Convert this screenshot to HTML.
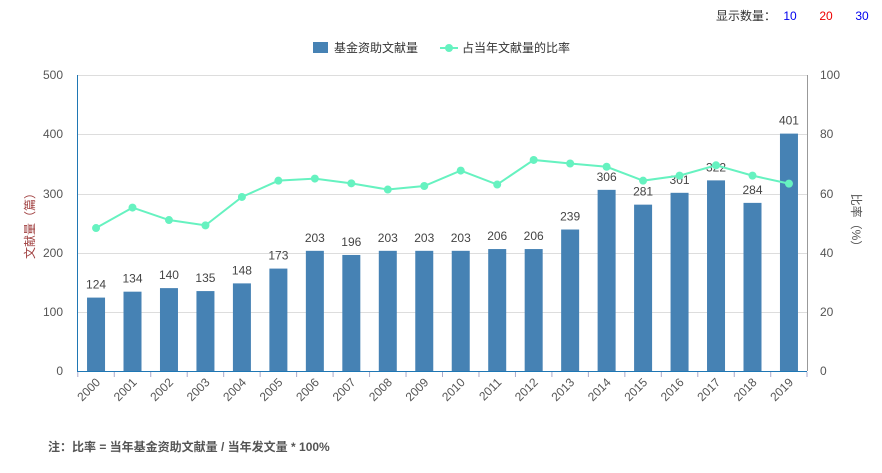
<!DOCTYPE html>
<html><head><meta charset="utf-8"><style>
body{margin:0;background:#fff;width:882px;height:468px;overflow:hidden;font-family:"Liberation Sans","Noto Sans CJK SC",sans-serif;}
svg text{font-family:"Liberation Sans","Noto Sans CJK SC",sans-serif;}
</style></head><body>
<svg width="882" height="468" xmlns="http://www.w3.org/2000/svg">
<text x="716" y="20" font-size="12" fill="#333">显示数量：</text>
<text x="790" y="20" font-size="12" fill="#0000ee" text-anchor="middle">10</text>
<text x="826" y="20" font-size="12" fill="#ee0000" text-anchor="middle">20</text>
<text x="862" y="20" font-size="12" fill="#0000ee" text-anchor="middle">30</text>
<rect x="313" y="42" width="15" height="11" fill="#4682b4"/>
<text x="334" y="52" font-size="12" fill="#333">基金资助文献量</text>
<line x1="440" y1="48" x2="458" y2="48" stroke="#66f2c0" stroke-width="2"/>
<circle cx="449" cy="48" r="4" fill="#66f2c0"/>
<text x="462" y="52" font-size="12" fill="#333">占当年文献量的比率</text>
<g stroke="#ddd" stroke-width="1">
<line x1="78" y1="75.5" x2="807" y2="75.5"/>
<line x1="78" y1="134.5" x2="807" y2="134.5"/>
<line x1="78" y1="194.5" x2="807" y2="194.5"/>
<line x1="78" y1="253.5" x2="807" y2="253.5"/>
<line x1="78" y1="312.5" x2="807" y2="312.5"/>
</g>
<line x1="77.5" y1="75" x2="77.5" y2="371" stroke="#1f77b4"/>
<line x1="807.5" y1="75" x2="807.5" y2="371" stroke="#999"/>
<g font-size="12" fill="#555" text-anchor="end">
<text x="63" y="79">500</text><text x="63" y="138">400</text><text x="63" y="198">300</text><text x="63" y="257">200</text><text x="63" y="316">100</text><text x="63" y="375">0</text>
</g>
<g font-size="12" fill="#555">
<text x="820" y="79">100</text><text x="820" y="138">80</text><text x="820" y="198">60</text><text x="820" y="257">40</text><text x="820" y="316">20</text><text x="820" y="375">0</text>
</g>
<text transform="translate(34,223) rotate(-90)" font-size="12" fill="#a04040" text-anchor="middle">文献量（篇）</text>
<text transform="translate(852,223) rotate(90)" font-size="12" fill="#555" text-anchor="middle">比率（%）</text>
<g id="bars"></g>
<line x1="77" y1="371.5" x2="807" y2="371.5" stroke="#1f77b4"/>
<g id="ticks"></g>
<g id="line"></g>
<text x="48" y="451" font-size="12" font-weight="bold" fill="#555">注：比率 = 当年基金资助文献量 / 当年发文量 * 100%</text>
<script>
var v=[124,134,140,135,148,173,203,196,203,203,203,206,206,239,306,281,301,322,284,401];
var r=[48.3,55.2,51,49.2,58.8,64.3,65,63.4,61.3,62.5,67.7,63,71.3,70.1,69,64.3,66,69.5,66,63.3];
var ns="http://www.w3.org/2000/svg",L=77.8,W=36.47,y0=371,s=0.592;
var b=document.getElementById("bars"),t=document.getElementById("ticks"),l=document.getElementById("line");
function el(n,a,p,tx){var e=document.createElementNS(ns,n);for(var k in a)e.setAttribute(k,a[k]);if(tx)e.textContent=tx;p.appendChild(e);}
var pts=[];
for(var i=0;i<20;i++){var c=L+W*(i+0.5),h=v[i]*s;
el("rect",{x:c-9,y:y0-h,width:18,height:h,fill:"#4682b4"},b);
el("text",{x:c,y:y0-h-9,"font-size":12,fill:"#444","text-anchor":"middle"},b,v[i]);
el("line",{x1:L+W*i,y1:372,x2:L+W*i,y2:377,stroke:"#aac"},t);
el("text",{transform:"translate("+(c+5)+",383) rotate(-45)","font-size":12,fill:"#555","text-anchor":"end"},t,2000+i);
pts.push(c+","+(y0-r[i]*2.96));}
el("line",{x1:807,y1:372,x2:807,y2:377,stroke:"#aac"},t);
el("polyline",{points:pts.join(" "),fill:"none",stroke:"#66f2c0","stroke-width":2},l);
pts.forEach(function(p){var a=p.split(",");el("circle",{cx:a[0],cy:a[1],r:4,fill:"#66f2c0"},l);});
</script>
</svg>
</body></html>
